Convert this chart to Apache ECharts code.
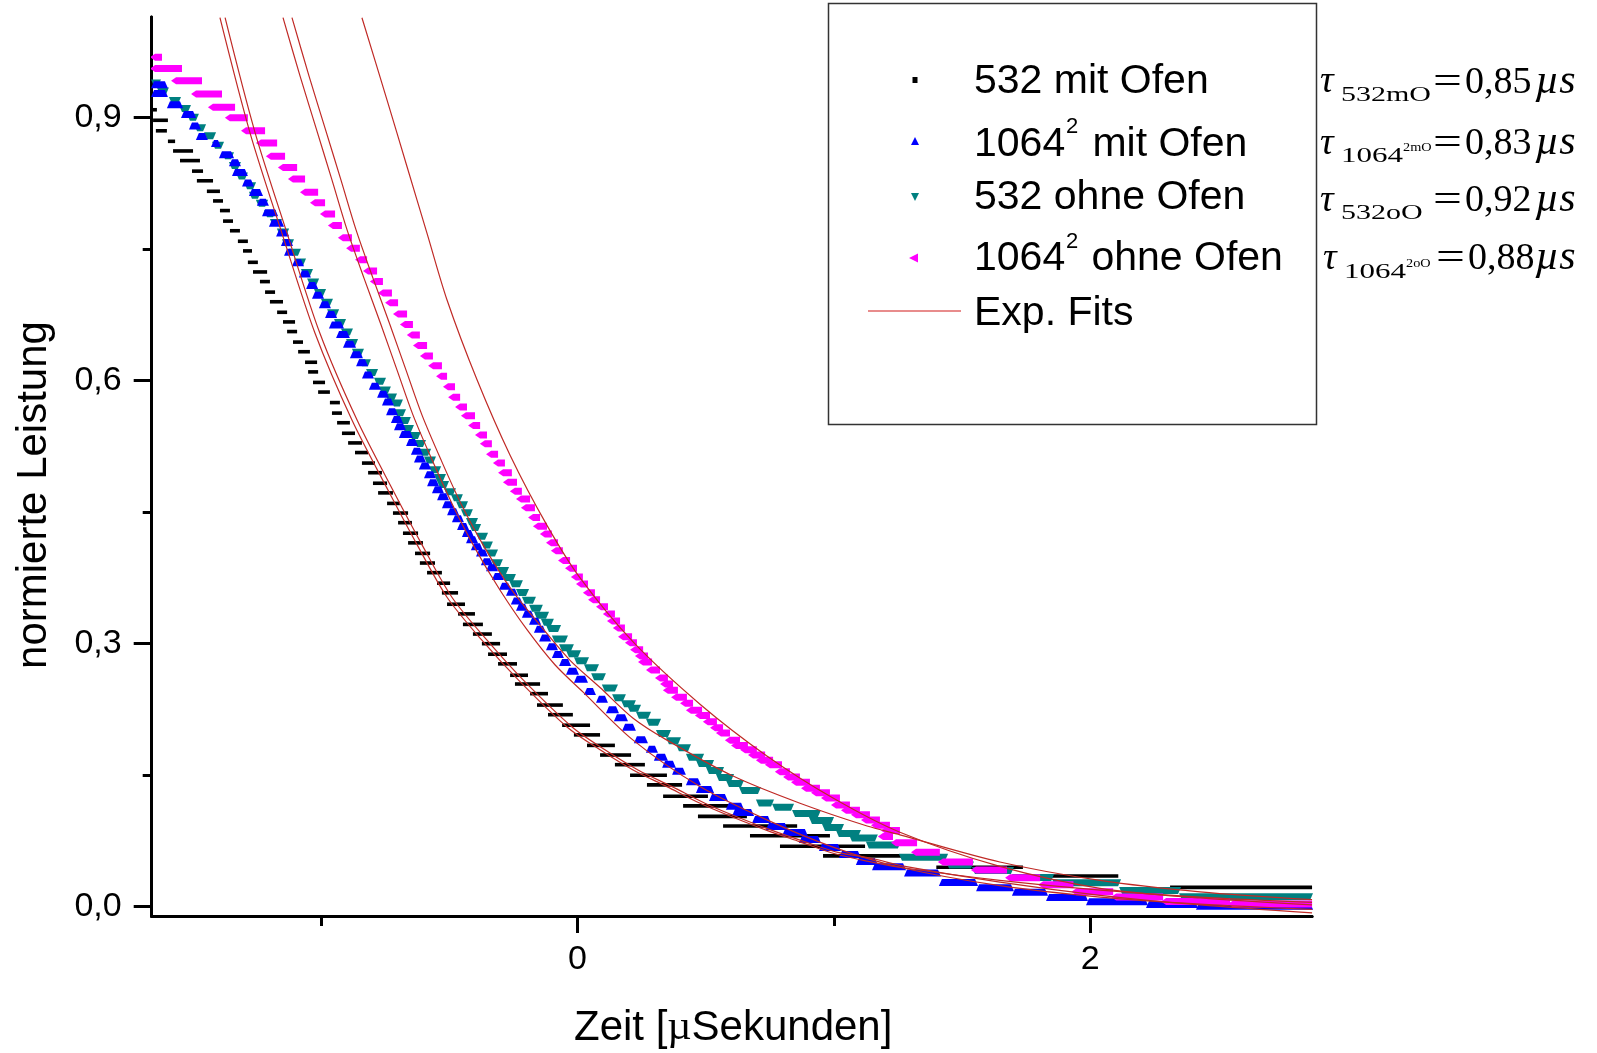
<!DOCTYPE html>
<html><head><meta charset="utf-8">
<script src="https://cdn.jsdelivr.net/npm/echarts@6/dist/echarts.min.js"></script>
<style>html,body{margin:0;padding:0;background:#fff}#c{width:1597px;height:1053px}</style>
</head><body><div id="c"></div>
<script>
// ---- axis ticks ----
const xMajorTicks = [0, 2];
const xMinorTicks = [-1, 1];
const yMajorTicks = [0, 0.3, 0.6, 0.9];
const yMinorTicks = [0.15, 0.45, 0.75];
const xRange = [-1.6613, 2.8658];
const yRange = [-0.0106, 1.0148];

// ---- legend / annotation texts ----
const seriesNames = ['532 mit Ofen', '1064² mit Ofen', '532 ohne Ofen', '1064² ohne Ofen', 'Exp. Fits'];
const tauSubs = ['532mO', '1064', '532oO', '1064'];
const tauSups = ['', '2mO', '', '2oO'];
const tauValues = ['0,85', '0,83', '0,92', '0,88'];

// ---- data: [t_start, t_end, level] of each quantised step ----
const data532mit = [
[-1.660,-1.641,0.909],[-1.656,-1.598,0.897],[-1.645,-1.602,0.885],[-1.598,-1.570,0.873],[-1.578,-1.500,0.862],
[-1.551,-1.473,0.851],[-1.504,-1.461,0.839],[-1.485,-1.422,0.828],[-1.446,-1.395,0.816],[-1.422,-1.383,0.805],
[-1.395,-1.356,0.794],[-1.383,-1.344,0.782],[-1.356,-1.317,0.771],[-1.325,-1.286,0.759],[-1.305,-1.270,0.748],
[-1.286,-1.247,0.735],[-1.266,-1.211,0.724],[-1.239,-1.200,0.713],[-1.219,-1.180,0.701],[-1.200,-1.149,0.690],
[-1.172,-1.133,0.678],[-1.149,-1.102,0.667],[-1.133,-1.094,0.656],[-1.110,-1.071,0.644],[-1.090,-1.044,0.633],
[-1.063,-1.016,0.621],[-1.051,-1.012,0.610],[-1.032,-0.985,0.598],[-1.012,-0.966,0.587],[-0.966,-0.927,0.575],
[-0.958,-0.919,0.563],[-0.938,-0.888,0.552],[-0.919,-0.868,0.540],[-0.895,-0.841,0.529],[-0.868,-0.817,0.518],
[-0.841,-0.790,0.506],[-0.817,-0.763,0.495],[-0.798,-0.743,0.483],[-0.778,-0.720,0.472],[-0.743,-0.693,0.460],
[-0.720,-0.661,0.449],[-0.700,-0.646,0.438],[-0.681,-0.622,0.426],[-0.661,-0.603,0.415],[-0.634,-0.575,0.403],
[-0.615,-0.556,0.392],[-0.587,-0.529,0.381],[-0.548,-0.497,0.369],[-0.529,-0.466,0.358],[-0.509,-0.439,0.345],
[-0.466,-0.400,0.334],[-0.447,-0.369,0.322],[-0.408,-0.334,0.311],[-0.373,-0.302,0.300],[-0.349,-0.275,0.288],
[-0.310,-0.236,0.277],[-0.263,-0.193,0.264],[-0.244,-0.146,0.254],[-0.185,-0.115,0.243],[-0.158,-0.057,0.230],
[-0.115,-0.018,0.219],[-0.060,0.049,0.207],[-0.014,0.088,0.196],[0.037,0.146,0.184],[0.088,0.209,0.173],
[0.146,0.263,0.162],[0.205,0.349,0.150],[0.271,0.408,0.139],[0.334,0.509,0.126],[0.412,0.607,0.115],
[0.470,0.661,0.103],[0.568,0.857,0.092],[0.673,0.985,0.081],[0.790,1.122,0.069],[0.958,1.348,0.058],
[1.400,1.738,0.045],[1.844,2.110,0.035],[2.312,2.866,0.022]
];
const data1064mit = [
[-1.660,-1.602,0.937],[-1.660,-1.602,0.927],[-1.598,-1.543,0.914],[-1.543,-1.492,0.903],[-1.512,-1.473,0.890],
[-1.485,-1.446,0.878],[-1.426,-1.395,0.870],[-1.395,-1.344,0.857],[-1.356,-1.317,0.848],[-1.344,-1.290,0.837],
[-1.305,-1.266,0.825],[-1.278,-1.231,0.814],[-1.247,-1.208,0.803],[-1.227,-1.172,0.791],[-1.200,-1.149,0.779],
[-1.172,-1.129,0.768],[-1.153,-1.114,0.757],[-1.141,-1.110,0.746],[-1.110,-1.071,0.734],[-1.083,-1.044,0.721],
[-1.055,-1.016,0.708],[-1.032,-0.993,0.697],[-1.005,-0.966,0.686],[-0.981,-0.942,0.675],[-0.966,-0.915,0.663],
[-0.938,-0.892,0.652],[-0.911,-0.868,0.641],[-0.884,-0.841,0.629],[-0.860,-0.821,0.620],[-0.837,-0.798,0.606],
[-0.810,-0.771,0.593],[-0.778,-0.739,0.584],[-0.759,-0.720,0.575],[-0.743,-0.704,0.564],[-0.724,-0.685,0.555],
[-0.712,-0.673,0.547],[-0.693,-0.646,0.538],[-0.665,-0.626,0.529],[-0.646,-0.607,0.519],[-0.634,-0.595,0.510],
[-0.615,-0.575,0.502],[-0.595,-0.556,0.492],[-0.583,-0.544,0.483],[-0.564,-0.525,0.475],[-0.544,-0.505,0.467],
[-0.525,-0.486,0.458],[-0.505,-0.466,0.450],[-0.486,-0.447,0.442],[-0.466,-0.427,0.433],[-0.447,-0.408,0.425],
[-0.431,-0.392,0.418],[-0.412,-0.373,0.410],[-0.392,-0.353,0.403],[-0.373,-0.334,0.393],[-0.353,-0.314,0.386],
[-0.330,-0.291,0.376],[-0.302,-0.263,0.365],[-0.275,-0.236,0.358],[-0.256,-0.217,0.348],[-0.236,-0.197,0.341],
[-0.213,-0.173,0.333],[-0.185,-0.146,0.325],[-0.166,-0.127,0.316],[-0.146,-0.107,0.306],[-0.119,-0.080,0.296],
[-0.096,-0.057,0.287],[-0.068,-0.029,0.278],[-0.041,0.002,0.268],[-0.010,0.037,0.259],[0.029,0.068,0.245],
[0.076,0.115,0.236],[0.115,0.158,0.224],[0.146,0.193,0.215],[0.178,0.224,0.204],[0.224,0.271,0.190],
[0.271,0.310,0.179],[0.302,0.349,0.170],[0.334,0.380,0.162],[0.373,0.419,0.154],[0.427,0.478,0.142],
[0.466,0.529,0.133],[0.517,0.583,0.124],[0.583,0.646,0.114],[0.607,0.685,0.107],[0.685,0.751,0.099],
[0.739,0.817,0.091],[0.802,0.895,0.084],[0.868,0.946,0.076],[0.946,1.024,0.067],[1.024,1.102,0.059],
[1.090,1.168,0.051],[1.153,1.278,0.045],[1.278,1.414,0.038],[1.414,1.559,0.027],[1.559,1.699,0.021],
[1.699,1.832,0.016],[1.832,1.988,0.010],[1.988,2.222,0.005],[2.222,2.417,0.002],[2.417,2.866,0.000]
];
const data532ohne = [
[-1.660,-1.629,0.940],[-1.637,-1.598,0.931],[-1.590,-1.551,0.920],[-1.551,-1.512,0.911],[-1.520,-1.481,0.901],
[-1.492,-1.453,0.889],[-1.453,-1.414,0.880],[-1.422,-1.383,0.869],[-1.383,-1.344,0.857],[-1.356,-1.317,0.846],
[-1.329,-1.290,0.834],[-1.297,-1.258,0.823],[-1.278,-1.239,0.812],[-1.251,-1.211,0.803],[-1.219,-1.180,0.791],
[-1.196,-1.157,0.781],[-1.169,-1.129,0.770],[-1.149,-1.110,0.758],[-1.122,-1.083,0.747],[-1.102,-1.063,0.736],
[-1.075,-1.036,0.724],[-1.051,-1.012,0.713],[-1.024,-0.985,0.701],[-0.997,-0.958,0.690],[-0.973,-0.934,0.678],
[-0.946,-0.907,0.667],[-0.919,-0.880,0.656],[-0.899,-0.860,0.644],[-0.876,-0.837,0.633],[-0.849,-0.810,0.621],
[-0.821,-0.782,0.610],[-0.790,-0.751,0.600],[-0.771,-0.732,0.590],[-0.747,-0.708,0.582],[-0.724,-0.685,0.575],
[-0.712,-0.673,0.564],[-0.693,-0.654,0.555],[-0.681,-0.642,0.546],[-0.654,-0.615,0.538],[-0.634,-0.595,0.529],
[-0.615,-0.575,0.519],[-0.595,-0.556,0.510],[-0.575,-0.536,0.499],[-0.556,-0.517,0.490],[-0.544,-0.505,0.482],
[-0.517,-0.478,0.474],[-0.490,-0.451,0.467],[-0.470,-0.431,0.459],[-0.451,-0.412,0.450],[-0.431,-0.392,0.440],
[-0.419,-0.380,0.433],[-0.392,-0.353,0.423],[-0.373,-0.334,0.413],[-0.353,-0.314,0.404],[-0.334,-0.295,0.393],
[-0.310,-0.271,0.384],[-0.291,-0.244,0.376],[-0.263,-0.217,0.369],[-0.236,-0.193,0.359],[-0.213,-0.166,0.350],
[-0.185,-0.139,0.341],[-0.166,-0.115,0.333],[-0.139,-0.096,0.325],[-0.119,-0.068,0.318],[-0.096,-0.041,0.306],
[-0.068,-0.018,0.296],[-0.041,0.010,0.289],[-0.010,0.041,0.281],[0.029,0.080,0.273],[0.057,0.107,0.263],
[0.099,0.154,0.250],[0.139,0.185,0.239],[0.174,0.224,0.232],[0.197,0.244,0.227],[0.232,0.283,0.219],
[0.271,0.322,0.211],[0.310,0.361,0.198],[0.349,0.400,0.190],[0.388,0.439,0.182],[0.427,0.490,0.171],
[0.466,0.529,0.164],[0.505,0.568,0.156],[0.544,0.607,0.148],[0.583,0.646,0.141],[0.634,0.712,0.133],
[0.700,0.763,0.119],[0.763,0.841,0.114],[0.841,0.946,0.107],[0.907,0.997,0.099],[0.958,1.036,0.091],
[1.012,1.102,0.084],[1.063,1.168,0.079],[1.129,1.258,0.071],[1.258,1.442,0.057],[1.442,1.543,0.048],
[1.543,1.699,0.042],[1.699,1.856,0.034],[1.856,2.117,0.028],[2.117,2.351,0.019],[2.351,2.866,0.012]
];
const data1064ohne = [
[-1.660,-1.621,0.969],[-1.660,-1.543,0.956],[-1.578,-1.465,0.942],[-1.500,-1.387,0.927],[-1.434,-1.336,0.912],
[-1.368,-1.286,0.900],[-1.305,-1.219,0.885],[-1.247,-1.172,0.871],[-1.208,-1.141,0.856],[-1.161,-1.094,0.843],
[-1.122,-1.063,0.830],[-1.075,-1.012,0.815],[-1.036,-0.985,0.803],[-0.997,-0.946,0.790],[-0.966,-0.919,0.777],
[-0.927,-0.880,0.763],[-0.895,-0.849,0.751],[-0.860,-0.821,0.738],[-0.829,-0.782,0.725],[-0.802,-0.759,0.713],
[-0.771,-0.724,0.700],[-0.743,-0.700,0.689],[-0.712,-0.665,0.676],[-0.685,-0.642,0.664],[-0.658,-0.615,0.652],
[-0.634,-0.587,0.640],[-0.607,-0.564,0.628],[-0.575,-0.529,0.617],[-0.544,-0.509,0.605],[-0.517,-0.478,0.593],
[-0.497,-0.458,0.581],[-0.470,-0.431,0.570],[-0.447,-0.400,0.560],[-0.419,-0.380,0.549],[-0.392,-0.353,0.538],
[-0.373,-0.334,0.528],[-0.349,-0.310,0.516],[-0.322,-0.283,0.506],[-0.302,-0.256,0.495],[-0.283,-0.236,0.484],
[-0.256,-0.217,0.474],[-0.232,-0.185,0.465],[-0.213,-0.166,0.455],[-0.185,-0.146,0.444],[-0.166,-0.119,0.434],
[-0.139,-0.100,0.425],[-0.115,-0.076,0.415],[-0.096,-0.057,0.406],[-0.068,-0.029,0.395],[-0.041,-0.002,0.386],
[-0.018,0.021,0.376],[0.002,0.041,0.368],[0.029,0.068,0.358],[0.049,0.088,0.350],[0.080,0.119,0.342],
[0.107,0.146,0.334],[0.123,0.166,0.326],[0.146,0.185,0.318],[0.166,0.213,0.308],[0.193,0.232,0.301],
[0.213,0.256,0.293],[0.232,0.275,0.286],[0.244,0.291,0.279],[0.275,0.322,0.270],[0.310,0.353,0.261],
[0.330,0.373,0.254],[0.341,0.392,0.247],[0.373,0.427,0.239],[0.408,0.451,0.232],[0.431,0.486,0.224],
[0.466,0.517,0.218],[0.497,0.544,0.211],[0.525,0.568,0.204],[0.548,0.595,0.198],[0.583,0.634,0.190],
[0.607,0.665,0.184],[0.642,0.700,0.179],[0.673,0.732,0.173],[0.704,0.763,0.167],[0.739,0.798,0.162],
[0.778,0.829,0.154],[0.810,0.868,0.148],[0.841,0.907,0.142],[0.880,0.946,0.135],[0.919,0.985,0.130],
[0.958,1.024,0.124],[0.997,1.063,0.116],[1.036,1.102,0.110],[1.075,1.141,0.105],[1.114,1.180,0.099],
[1.153,1.219,0.093],[1.192,1.258,0.087],[1.180,1.231,0.080],[1.231,1.325,0.073],[1.309,1.414,0.062],
[1.414,1.543,0.051],[1.543,1.676,0.042],[1.676,1.805,0.033],[1.805,1.935,0.025],[1.935,2.090,0.017],
[2.090,2.285,0.011],[2.285,2.546,0.006],[2.546,2.866,0.003]
];

// ---- exponential fit curves ----
const fitBlack1 = [[-1.395,1.014],[-1.278,0.883],[-1.153,0.768],[-1.024,0.654],[-0.880,0.555],[-0.739,0.475],[-0.626,0.413],[-0.509,0.353],[-0.373,0.304],[-0.232,0.259],[-0.041,0.205],[0.088,0.179],[0.217,0.156],[0.349,0.137],[0.478,0.118],[0.607,0.102],[0.739,0.087],[0.868,0.074],[0.997,0.061],[1.130,0.052],[1.258,0.045],[1.648,0.030],[2.039,0.019],[2.429,0.011],[2.866,0.005]];
const fitBlack2 = [[-1.375,1.014],[-1.258,0.883],[-1.133,0.768],[-1.005,0.654],[-0.860,0.555],[-0.720,0.475],[-0.607,0.413],[-0.490,0.353],[-0.353,0.304],[-0.213,0.259],[-0.021,0.205],[0.107,0.179],[0.236,0.156],[0.369,0.137],[0.497,0.118],[0.626,0.102],[0.759,0.087],[0.888,0.074],[1.016,0.062],[1.149,0.055],[1.278,0.046],[1.648,0.028],[2.039,0.013],[2.429,0.002],[2.866,-0.007]];
const fitBlue = [[-1.149,1.014],[-1.083,0.948],[-1.020,0.888],[-0.958,0.829],[-0.899,0.772],[-0.833,0.717],[-0.767,0.664],[-0.704,0.612],[-0.642,0.561],[-0.568,0.510],[-0.490,0.460],[-0.400,0.409],[-0.302,0.361],[-0.197,0.316],[-0.088,0.276],[0.021,0.245],[0.217,0.190],[0.478,0.137],[0.739,0.099],[0.997,0.068],[1.258,0.045],[1.648,0.024],[2.039,0.011],[2.429,0.003],[2.866,-0.003]];
const fitTeal = [[-1.114,1.014],[-1.048,0.948],[-0.985,0.888],[-0.923,0.829],[-0.864,0.772],[-0.798,0.717],[-0.732,0.664],[-0.669,0.612],[-0.607,0.561],[-0.533,0.510],[-0.455,0.460],[-0.361,0.409],[-0.256,0.361],[-0.146,0.321],[-0.029,0.281],[0.088,0.250],[0.217,0.215],[0.349,0.190],[0.607,0.149],[0.868,0.118],[1.130,0.092],[1.258,0.082],[1.648,0.051],[2.039,0.030],[2.429,0.017],[2.866,0.008]];
const fitMagenta = [[-0.841,1.014],[-0.743,0.920],[-0.665,0.844],[-0.587,0.768],[-0.509,0.692],[-0.392,0.601],[-0.263,0.515],[-0.119,0.435],[0.010,0.375],[0.217,0.302],[0.478,0.231],[0.739,0.172],[0.997,0.124],[1.258,0.085],[1.648,0.046],[2.039,0.021],[2.429,0.010],[2.866,0.002]];

const COLORS = { black: '#000000', blue: '#0000ff', teal: '#008080', magenta: '#ff00ff', fit: '#c02a26', fitLegend: '#e06666' };

function makeRender(kind, color) {
  return function (params, api) {
    const yv = api.value(2);
    const a = api.coord([api.value(0), yv]);
    const b = api.coord([api.value(1), yv]);
    const x0 = a[0], x1 = Math.max(b[0], a[0] + 4), y = a[1];
    if (kind === 'square') {
      return { type: 'rect', shape: { x: x0, y: y - 1.8, width: x1 - x0, height: 3.6 }, style: { fill: color } };
    }
    let pts;
    if (kind === 'up') pts = [[x0 - 1, y + 3], [x1 + 1, y + 3], [x1 - 2, y - 4], [x0 + 2, y - 4]];
    else if (kind === 'down') pts = [[x0 - 1, y - 3], [x1 + 1, y - 3], [x1 - 2, y + 4], [x0 + 2, y + 4]];
    else pts = [[x0 - 2, y], [x0 + 3, y - 3.5], [x1, y - 3.5], [x1, y + 3.5], [x0 + 3, y + 3.5]];
    return { type: 'polygon', shape: { points: pts }, style: { fill: color } };
  };
}
function dashSeries(name, data, kind, color) {
  return { type: 'custom', name, data, encode: { x: [0, 1], y: 2 }, renderItem: makeRender(kind, color), clip: true, silent: true, z: 2 };
}
function fitSeries(data) {
  return { type: 'line', name: seriesNames[4], data, smooth: 0.3, showSymbol: false, symbol: 'none', clip: true, silent: true, z: 5,
    lineStyle: { color: COLORS.fit, width: 1.2 } };
}

const SANS = 'Liberation Sans';
const SERIF = 'Liberation Serif';
const axisBase = { type: 'value', splitLine: { show: false } };

const graphics = [];
graphics.push({ type: 'rect', shape: { x: 828.5, y: 3.5, width: 488, height: 421 }, style: { fill: 'transparent', stroke: '#333', lineWidth: 1.5 }, z: 10 });
graphics.push({ type: 'rect', shape: { x: 912.5, y: 77, width: 5, height: 6 }, style: { fill: COLORS.black }, z: 10 });
graphics.push({ type: 'polygon', shape: { points: [[911, 145], [919, 145], [915, 137]] }, style: { fill: COLORS.blue }, z: 10 });
graphics.push({ type: 'polygon', shape: { points: [[911, 193], [919, 193], [915, 201]] }, style: { fill: COLORS.teal }, z: 10 });
graphics.push({ type: 'polygon', shape: { points: [[909, 258], [918, 253.5], [918, 262.5]] }, style: { fill: COLORS.magenta }, z: 10 });
graphics.push({ type: 'line', shape: { x1: 868, y1: 311, x2: 961, y2: 311 }, style: { stroke: COLORS.fitLegend, lineWidth: 1.5 }, z: 10 });

// text placed by its baseline
function sansT(x, base, text, size, extra) {
  return { type: 'text', x, y: base - 0.3465 * size, z: 10, style: Object.assign({ text, fontSize: size, fontFamily: SANS, fill: '#000', align: 'left', verticalAlign: 'middle' }, extra || {}) };
}
function serifT(x, base, text, size, extra) {
  return { type: 'text', x, y: base - 0.3375 * size, z: 10, style: Object.assign({ text, fontSize: size, fontFamily: SERIF, fill: '#000', align: 'left', verticalAlign: 'middle' }, extra || {}) };
}
const LF = 41;
const legBase = [95.5, 158.5, 211.5, 272.5, 327.5];
graphics.push(sansT(974, legBase[0], seriesNames[0], LF));
graphics.push(sansT(974, legBase[1], '1064', LF));
graphics.push(sansT(1066, 134.5, '2', 22));
graphics.push(sansT(1081, legBase[1], ' mit Ofen', LF));
graphics.push(sansT(974, legBase[2], seriesNames[2], LF));
graphics.push(sansT(974, legBase[3], '1064', LF));
graphics.push(sansT(1066, 249.5, '2', 22));
graphics.push(sansT(1080, legBase[3], ' ohne Ofen', LF));
graphics.push(sansT(974, legBase[4], seriesNames[4], LF));

// tau annotations
const tauMainBase = [95.7, 157, 214, 272];
const tauCharCenter = [77.5, 139.5, 197, 255];
const tauSubBase = [102, 163, 220.5, 279];
const tauSupBase = [0, 152, 0, 268];
const tauShift = [0, 0, 0, 3];
for (let i = 0; i < 4; i++) {
  const dx = tauShift[i];
  graphics.push({ type: 'text', x: 1320 + dx, y: tauCharCenter[i] + 4.5, z: 10,
    style: { text: 'τ', fontSize: 38, fontFamily: SERIF, fontStyle: 'italic', fill: '#000', align: 'left', verticalAlign: 'middle' } });
  graphics.push(Object.assign(serifT(1341 + dx, tauSubBase[i], tauSubs[i], 20), { scaleX: tauSups[i] ? 1.55 : 1.5 }));
  if (tauSups[i]) graphics.push(Object.assign(serifT(1403 + dx, tauSupBase[i], tauSups[i], 13), { scaleX: 1.1 }));
  graphics.push(Object.assign(serifT(1433 + dx, tauMainBase[i], '=', 38), { scaleX: 1.35 }));
  graphics.push(serifT(1465 + dx, tauMainBase[i], tauValues[i], 38));
  graphics.push(serifT(1535, tauMainBase[i], 'µs', 42, { fontStyle: 'italic' }));
}
// axis titles
graphics.push({ type: 'text', x: 574, y: 1043 - 0.3465 * 42, z: 10, style: { text: '{a|Zeit [}{b|µ}{a|Sekunden]}', align: 'left', verticalAlign: 'middle',
  rich: { a: { fontSize: 42, fontFamily: SANS, fill: '#000' }, b: { fontSize: 42, fontFamily: SERIF, fill: '#000' } } } });
graphics.push({ type: 'text', x: 34, y: 495, rotation: Math.PI / 2, z: 10, style: { text: 'normierte Leistung', fontSize: 42, fontFamily: SANS, fill: '#000', align: 'center', verticalAlign: 'middle' } });

const fmt = v => String(Math.round(v * 10) / 10).replace('.', ',');
const yFmt = v => v.toFixed(1).replace('.', ',');

const option = {
  animation: false,
  backgroundColor: '#fff',
  grid: { left: 151.7, right: 1597 - 1312, top: 17, bottom: 1053 - 916, containLabel: false },
  xAxis: [
    Object.assign({}, axisBase, { min: xRange[0], max: xRange[1], position: 'bottom',
      axisLine: { show: true, onZero: false, lineStyle: { color: '#000', width: 3 } },
      axisTick: { show: true, customValues: xMajorTicks, length: 17, lineStyle: { color: '#000', width: 3 } },
      axisLabel: { show: true, customValues: xMajorTicks, margin: 27, fontSize: 34, fontFamily: SANS, color: '#000', formatter: fmt } }),
    Object.assign({}, axisBase, { min: xRange[0], max: xRange[1], position: 'bottom',
      axisLine: { show: true, onZero: false, lineStyle: { color: '#000', width: 3 } },
      axisTick: { show: true, customValues: xMinorTicks, length: 10, lineStyle: { color: '#000', width: 3 } },
      axisLabel: { show: false } })
  ],
  yAxis: [
    Object.assign({}, axisBase, { min: yRange[0], max: yRange[1], position: 'left',
      axisLine: { show: true, onZero: false, lineStyle: { color: '#000', width: 3 } },
      axisTick: { show: true, customValues: yMajorTicks, length: 18, lineStyle: { color: '#000', width: 3 } },
      axisLabel: { show: true, customValues: yMajorTicks, margin: 30, fontSize: 34, fontFamily: SANS, color: '#000', formatter: yFmt, padding: [0, 0, 8, 0] } }),
    Object.assign({}, axisBase, { min: yRange[0], max: yRange[1], position: 'left',
      axisLine: { show: true, onZero: false, lineStyle: { color: '#000', width: 3 } },
      axisTick: { show: true, customValues: yMinorTicks, length: 9, lineStyle: { color: '#000', width: 3 } },
      axisLabel: { show: false } })
  ],
  series: [
    dashSeries(seriesNames[0], data532mit, 'square', COLORS.black),
    dashSeries(seriesNames[2], data532ohne, 'down', COLORS.teal),
    dashSeries(seriesNames[1], data1064mit, 'up', COLORS.blue),
    dashSeries(seriesNames[3], data1064ohne, 'left', COLORS.magenta),
    fitSeries(fitBlack1), fitSeries(fitBlack2), fitSeries(fitBlue), fitSeries(fitTeal), fitSeries(fitMagenta)
  ],
  graphic: graphics
};
const chart = echarts.init(document.getElementById('c'), null, { renderer: 'canvas' });
chart.setOption(option);
</script></body></html>
